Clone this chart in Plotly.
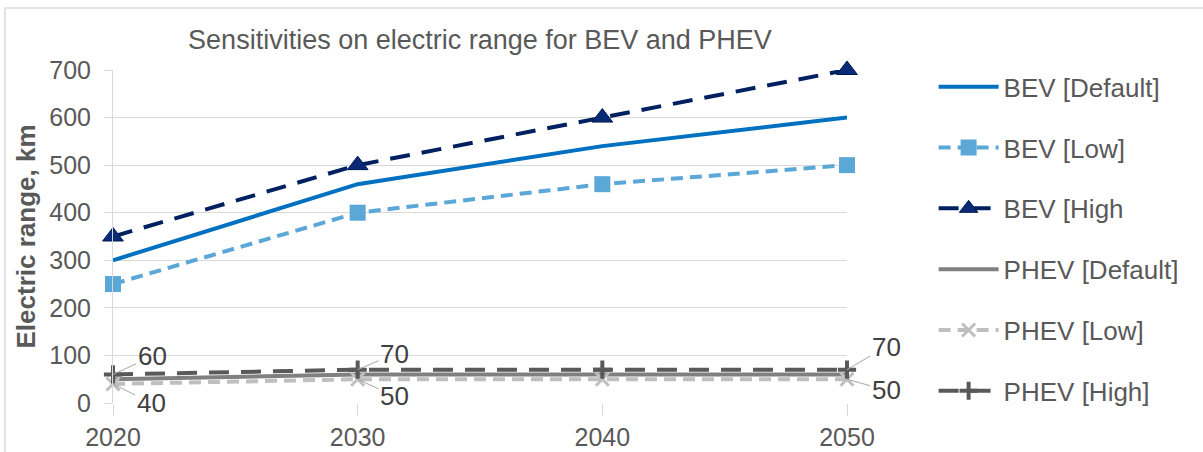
import plotly.graph_objects as go

years = [2020, 2030, 2040, 2050]
bev_default = [300, 460, 540, 600]
bev_low = [250, 400, 460, 500]
bev_high = [350, 500, 600, 700]
phev_default = [50, 60, 60, 60]
phev_low = [40, 50, 50, 50]
phev_high = [60, 70, 70, 70]

names = ["BEV [Default]", "BEV [Low]", "BEV [High", "PHEV [Default]", "PHEV [Low]", "PHEV [High]"]
series = [bev_default, bev_low, bev_high, phev_default, phev_low, phev_high]
colors = ["#0070C0", "#5BA7D7", "#002060", "#808080", "#BFBFBF", "#595959"]
dashes = ["solid", "12px,7px", "20px,12px", "solid", "12px,7px", "20px,12px"]
symbols = [None, "square", "triangle-up", None, "x-thin", "cross"]
msizes = [0, 16, 18, 0, 13, 13]

fig = go.Figure()
for name, ys, c, d, s, ms in zip(names, series, colors, dashes, symbols, msizes):
    mode = "lines" if s is None else "lines+markers"
    marker = dict(size=ms, color=c, symbol=s) if s else None
    if s == "x-thin":
        marker = dict(size=ms, color=c, symbol=s, line=dict(width=3, color=c))
    elif s == "cross":
        marker = dict(size=ms, color=c, symbol="cross-thin", line=dict(width=4, color=c))
    elif s == "triangle-up":
        marker = dict(size=ms, color="#0A2A78", symbol=s, line=dict(width=1, color="#001A50"))
    fig.add_trace(go.Scatter(
        x=years, y=ys, name=name, mode=mode, legendgroup=name,
        line=dict(color=c, width=4, dash=d),
        marker=marker, cliponaxis=False,
    ))

# data labels with leader lines for PHEV High / Low
label_idx = [0, 1, 3]
high_off = [(39, -18), (37, -16), (39, -23)]
low_off = [(38, 19), (37, 17), (39, 11)]
anns = []
for k, i in enumerate(label_idx):
    anns.append(dict(x=years[i], y=phev_high[i], xref="x", yref="y", text=str(phev_high[i]),
                     showarrow=True, arrowhead=0, arrowwidth=1, arrowcolor="#A6A6A6",
                     ax=high_off[k][0], ay=high_off[k][1], xanchor="center", yanchor="middle",
                     font=dict(size=26, color="#404040")))
    anns.append(dict(x=years[i], y=phev_low[i], xref="x", yref="y", text=str(phev_low[i]),
                     showarrow=True, arrowhead=0, arrowwidth=1, arrowcolor="#A6A6A6",
                     ax=low_off[k][0], ay=low_off[k][1], xanchor="center", yanchor="middle",
                     font=dict(size=26, color="#404040")))

fig.update_layout(
    width=1203, height=452,
    margin=dict(l=113, r=356, t=70, b=49, autoexpand=False),
    paper_bgcolor="white", plot_bgcolor="white",
    font=dict(family="Liberation Sans, Arial, sans-serif", size=25, color="#595959"),
    title=dict(text="Sensitivities on electric range for BEV and PHEV", x=0.5, xref="paper",
               y=1 - 40 / 452, yanchor="middle", font=dict(size=27, color="#595959")),
    xaxis=dict(range=[2020, 2050], tickvals=years, ticks="outside", ticklen=12,
               tickcolor="#D9D9D9", showgrid=False, zeroline=False, showline=False,
               automargin=False, tickfont=dict(size=25, color="#595959")),
    yaxis=dict(range=[0, 700], dtick=100, ticks="outside", ticklen=8, tickcolor="#D9D9D9",
               gridcolor="#D9D9D9", gridwidth=1, zeroline=False, showline=True,
               linecolor="#D9D9D9", linewidth=1, ticklabelstandoff=8, automargin=False,
               title=dict(text="<b>Electric range, km</b>", font=dict(size=26, color="#595959"), standoff=6),
               tickfont=dict(size=25, color="#595959")),
    legend=dict(x=1.118, y=1.02, xanchor="left", yanchor="top", tracegroupgap=24,
                traceorder="grouped", maxheight=440,
                font=dict(size=26, color="#595959"), itemwidth=60, bgcolor="rgba(0,0,0,0)"),
    annotations=anns,
    shapes=[dict(type="rect", xref="paper", yref="paper",
                 x0=(5 - 113) / 734, x1=(1210 - 113) / 734,
                 y0=(403 - 460) / 333, y1=(403 - 8) / 333,
                 line=dict(color="#D9D9D9", width=1.5), layer="below")],
)

fig.write_html("out.html", config={"displayModeBar": False},
               post_script="document.body.style.margin='0px';")
